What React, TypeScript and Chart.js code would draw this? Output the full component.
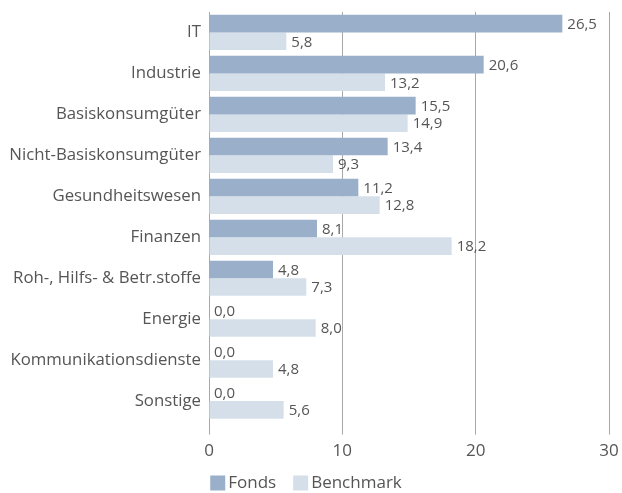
import React, { useEffect, useRef } from "react";
import { Chart, registerables } from "chart.js";
Chart.register(...registerables);

const categories = [
  "IT",
  "Industrie",
  "Basiskonsumgüter",
  "Nicht-Basiskonsumgüter",
  "Gesundheitswesen",
  "Finanzen",
  "Roh-, Hilfs- & Betr.stoffe",
  "Energie",
  "Kommunikationsdienste",
  "Sonstige",
];
const fondsValues = [26.5, 20.6, 15.5, 13.4, 11.2, 8.1, 4.8, 0.0, 0.0, 0.0];
const benchmarkValues = [5.8, 13.2, 14.9, 9.3, 12.8, 18.2, 7.3, 8.0, 4.8, 5.6];
const seriesNames = ["Fonds", "Benchmark"];
const xMin = 0;
const xMax = 30;
const xStep = 10;

const FONT = "'Open Sans', sans-serif";
const TEXT = "#555555";
const FONDS_COLOR = "#9AAFCA";
const BENCH_COLOR = "#D5DFEA";
const GRID = "#A8A8A8";

const fmt = (v: number) => v.toFixed(1).replace(".", ",");

const valueLabels = {
  id: "valueLabels",
  afterDatasetsDraw(chart: any) {
    const ctx = chart.ctx;
    ctx.save();
    ctx.font = `15px ${FONT}`;
    ctx.fillStyle = TEXT;
    ctx.textAlign = "left";
    ctx.textBaseline = "middle";
    chart.data.datasets.forEach((ds: any, i: number) => {
      const meta = chart.getDatasetMeta(i);
      meta.data.forEach((el: any, j: number) => {
        const v = ds.data[j];
        ctx.fillText(fmt(v), el.x + 5, el.y + 1);
      });
    });
    ctx.restore();
  },
};

const customLegend = {
  id: "customLegend",
  afterDraw(chart: any) {
    const ctx = chart.ctx;
    ctx.save();
    ctx.font = `17px ${FONT}`;
    ctx.textBaseline = "middle";
    ctx.textAlign = "left";
    const box = 15;
    const gapText = 3;
    const gapItem = 17;
    const items = chart.data.datasets.map((ds: any) => ({
      label: ds.label,
      color: ds.backgroundColor,
      w: box + gapText + ctx.measureText(ds.label).width,
    }));
    const total = items.reduce((s: number, it: any) => s + it.w, 0) + gapItem * (items.length - 1);
    let x = chart.width / 2 - 5 - total / 2;
    const cy = chart.height - 10;
    items.forEach((it: any) => {
      ctx.fillStyle = it.color;
      ctx.fillRect(x, cy - box / 2, box, box);
      ctx.fillStyle = TEXT;
      ctx.fillText(it.label, x + box + gapText, cy);
      x += it.w + gapItem;
    });
    ctx.restore();
  },
};

export default function App() {
  const ref = useRef<HTMLCanvasElement>(null);
  useEffect(() => {
    document.body.style.margin = "0";
    const chart = new Chart(ref.current!, {
      type: "bar",
      data: {
        labels: categories,
        datasets: [
          {
            label: seriesNames[0],
            data: fondsValues,
            backgroundColor: FONDS_COLOR,
            categoryPercentage: 0.86,
            barPercentage: 1,
          },
          {
            label: seriesNames[1],
            data: benchmarkValues,
            backgroundColor: BENCH_COLOR,
            categoryPercentage: 0.86,
            barPercentage: 1,
          },
        ],
      },
      options: {
        indexAxis: "y",
        animation: false,
        responsive: false,
        devicePixelRatio: 1,
        layout: { padding: { top: 12, right: 13, bottom: 26, left: 0 } },
        plugins: {
          legend: { display: false },
          tooltip: { enabled: false },
        },
        scales: {
          x: {
            min: xMin,
            max: xMax,
            ticks: {
              stepSize: xStep,
              padding: 6,
              color: TEXT,
              font: { family: FONT, size: 17 },
            },
            grid: {
              color: GRID,
              drawTicks: true,
              tickLength: 13,
              lineWidth: 1,
            },
            border: { display: false },
            afterFit: (scale: any) => {
              scale.paddingLeft = 0;
              scale.paddingRight = 0;
            },
          },
          y: {
            ticks: {
              padding: 8,
              color: TEXT,
              font: { family: FONT, size: 16.8 },
            },
            grid: { display: false, drawTicks: false },
            border: { display: false },
            afterFit: (scale: any) => {
              scale.width = 209;
              scale.paddingTop = 0;
              scale.paddingBottom = 0;
            },
          },
        },
      },
      plugins: [valueLabels, customLegend],
    });
    return () => chart.destroy();
  }, []);
  return (
    <div style={{ width: 622, height: 493 }}>
      <canvas ref={ref} width={622} height={493} />
    </div>
  );
}
